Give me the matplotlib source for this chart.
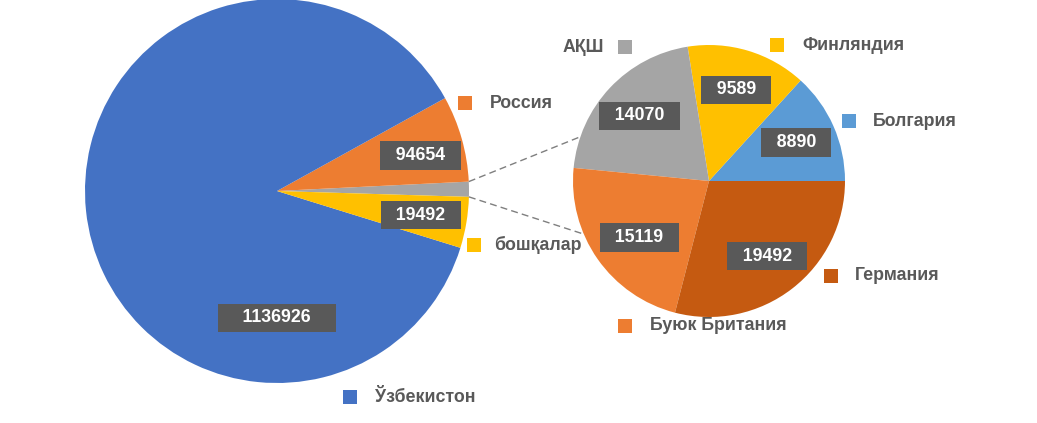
import numpy as np
import matplotlib
matplotlib.use("Agg")
import matplotlib.pyplot as plt

# ---- data ----
main_categories = ["other_link", "Россия", "Ўзбекистон", "бошқалар"]
main_values = [16500, 94654, 1136926, 56000]          # slice sizes
main_value_labels = [None, "94654", "1136926", "19492"]  # numbers printed on the slices
main_colors = ["#A5A5A5", "#ED7D31", "#4472C4", "#FFC000"]

sub_categories = ["Болгария", "Финляндия", "АҚШ", "Буюк Британия", "Германия"]
sub_values = [8890, 9589, 14070, 15119, 19492]
sub_colors = ["#5B9BD5", "#FFC000", "#A5A5A5", "#ED7D31", "#C55A11"]

FONT = ["Liberation Sans", "DejaVu Sans"]
FS = 12.8
TXT = "#595959"
BOX = "#595959"

W, H = 1037, 423
fig = plt.figure(figsize=(W / 100, H / 100), dpi=100)
ax = fig.add_axes([0, 0, 1, 1])

def py(y):  # pixel-from-top to data y
    return H - y

c1 = (277, py(191)); r1 = 192
c2 = (709, py(181)); r2 = 136

w1, _ = ax.pie(main_values, colors=main_colors, startangle=-1.75, counterclock=True,
               center=c1, radius=r1, wedgeprops=dict(linewidth=0))
w2, _ = ax.pie(sub_values, colors=sub_colors, startangle=0, counterclock=True,
               center=c2, radius=r2, wedgeprops=dict(linewidth=0))

def box_label(x, y, s, extra="  "):
    ax.text(x, y, extra + s + extra, ha="center", va="center", color="white",
            fontsize=FS, fontweight="bold", family=FONT,
            bbox=dict(boxstyle="square,pad=0.32", fc=BOX, ec="none"), zorder=5)

def mid_pos(w, center, r, frac, dth=0.0):
    th = np.deg2rad((w.theta1 + w.theta2) / 2 + dth)
    return center[0] + frac * r * np.cos(th), center[1] + frac * r * np.sin(th)

# main pie value labels
for w, lab, cat in zip(w1, main_value_labels, main_categories):
    if lab is None:
        continue
    if cat == "Ўзбекистон":
        x, y = c1[0], c1[1] - 0.66 * r1
        box_label(x, y, lab, extra="    ")
    elif cat == "Россия":
        x, y = mid_pos(w, c1, r1, 0.77, -2.0)
        box_label(x, y, lab)
    else:
        x, y = mid_pos(w, c1, r1, 0.76)
        box_label(x, y, lab)

# sub pie value labels
for w, v, cat in zip(w2, sub_values, sub_categories):
    if cat == "Буюк Британия":
        x, y = mid_pos(w, c2, r2, 0.66, 4.0)
    else:
        x, y = mid_pos(w, c2, r2, 0.70)
    box_label(x, y, str(v))

# connector lines from grey slice to second pie
g = w1[0]
for th_main, th_sub in [(g.theta2, 161), (g.theta1, 203)]:
    a = np.deg2rad(th_main); b = np.deg2rad(th_sub)
    ax.plot([c1[0] + r1 * np.cos(a), c2[0] + r2 * np.cos(b)],
            [c1[1] + r1 * np.sin(a), c2[1] + r2 * np.sin(b)],
            ls=(0, (5, 3)), color="#7F7F7F", lw=1.0, zorder=1)

# category labels: (label, color, square center x, y(px), text x, text side)
cat_labels = [
    ("Россия", "#ED7D31", 465, 103, 490, "right"),
    ("бошқалар", "#FFC000", 474, 245, 494, "right"),
    ("Ўзбекистон", "#4472C4", 350, 397, 375, "right"),
    ("АҚШ", "#A5A5A5", 625, 47, 604, "left"),
    ("Финляндия", "#FFC000", 777, 45, 802, "right"),
    ("Болгария", "#5B9BD5", 849, 121, 873, "right"),
    ("Германия", "#C55A11", 831, 276, 855, "right"),
    ("Буюк Британия", "#ED7D31", 625, 326, 650, "right"),
]
for lab, col, sx, sy, tx, side in cat_labels:
    ax.scatter([sx], [py(sy)], marker="s", s=112, color=col, linewidths=0, zorder=6)
    ax.text(tx, py(sy), lab, ha="left" if side == "right" else "right", va="center",
            color=TXT, fontsize=FS, fontweight="bold", family=FONT, zorder=6)

ax.set_xlim(0, W)
ax.set_ylim(0, H)
ax.set_aspect("equal")
ax.axis("off")
fig.savefig("out.png", dpi=100, facecolor="white")
